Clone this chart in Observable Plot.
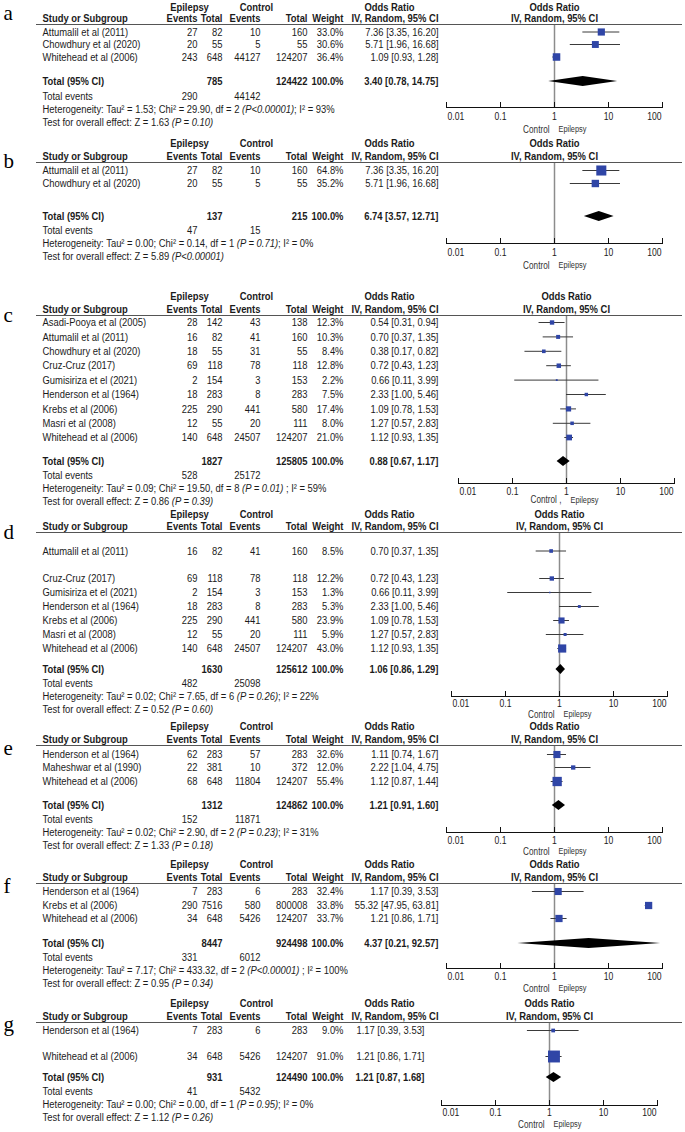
<!DOCTYPE html>
<html>
<head>
<meta charset="utf-8">
<script src="https://cdn.jsdelivr.net/npm/d3@7"></script>
<script src="https://cdn.jsdelivr.net/npm/@observablehq/plot@0.6"></script>
<style>
html,body{margin:0;padding:0;background:#fff;}
#figure{width:685px;height:1132px;overflow:hidden;background:#fff;}
#figure svg{display:block;}
</style>
</head>
<body>
<div id="figure"></div>
<script>
// ---------------- DATA ----------------
// Panel a
const studiesA = ["Attumalil et al (2011)", "Chowdhury et al (2020)", "Whitehead et al (2006)"];
const epiEventsA = [27, 20, 243];
const epiTotalA = [82, 55, 648];
const ctlEventsA = [10, 5, 44127];
const ctlTotalA = [160, 55, 124207];
const weightA = [33.0, 30.6, 36.4];
const orA = [7.36, 5.71, 1.09];
const loA = [3.35, 1.96, 0.93];
const hiA = [16.20, 16.68, 1.28];
// Panel b
const studiesB = ["Attumalil et al (2011)", "Chowdhury et al (2020)"];
const epiEventsB = [27, 20];
const epiTotalB = [82, 55];
const ctlEventsB = [10, 5];
const ctlTotalB = [160, 55];
const weightB = [64.8, 35.2];
const orB = [7.36, 5.71];
const loB = [3.35, 1.96];
const hiB = [16.20, 16.68];
// Panel c
const studiesC = ["Asadi-Pooya et al (2005)", "Attumalil et al (2011)", "Chowdhury et al (2020)", "Cruz-Cruz (2017)", "Gumisiriza et el (2021)", "Henderson et al (1964)", "Krebs et al (2006)", "Masri et al (2008)", "Whitehead et al (2006)"];
const epiEventsC = [28, 16, 18, 69, 2, 18, 225, 12, 140];
const epiTotalC = [142, 82, 55, 118, 154, 283, 290, 55, 648];
const ctlEventsC = [43, 41, 31, 78, 3, 8, 441, 20, 24507];
const ctlTotalC = [138, 160, 55, 118, 153, 283, 580, 111, 124207];
const weightC = [12.3, 10.3, 8.4, 12.8, 2.2, 7.5, 17.4, 8.0, 21.0];
const orC = [0.54, 0.70, 0.38, 0.72, 0.66, 2.33, 1.09, 1.27, 1.12];
const loC = [0.31, 0.37, 0.17, 0.43, 0.11, 1.00, 0.78, 0.57, 0.93];
const hiC = [0.94, 1.35, 0.82, 1.23, 3.99, 5.46, 1.53, 2.83, 1.35];
// Panel d
const studiesD = ["Attumalil et al (2011)", "Cruz-Cruz (2017)", "Gumisiriza et el (2021)", "Henderson et al (1964)", "Krebs et al (2006)", "Masri et al (2008)", "Whitehead et al (2006)"];
const epiEventsD = [16, 69, 2, 18, 225, 12, 140];
const epiTotalD = [82, 118, 154, 283, 290, 55, 648];
const ctlEventsD = [41, 78, 3, 8, 441, 20, 24507];
const ctlTotalD = [160, 118, 153, 283, 580, 111, 124207];
const weightD = [8.5, 12.2, 1.3, 5.3, 23.9, 5.9, 43.0];
const orD = [0.70, 0.72, 0.66, 2.33, 1.09, 1.27, 1.12];
const loD = [0.37, 0.43, 0.11, 1.00, 0.78, 0.57, 0.93];
const hiD = [1.35, 1.23, 3.99, 5.46, 1.53, 2.83, 1.35];
// Panel e
const studiesE = ["Henderson et al (1964)", "Maheshwar et al (1990)", "Whitehead et al (2006)"];
const epiEventsE = [62, 22, 68];
const epiTotalE = [283, 381, 648];
const ctlEventsE = [57, 10, 11804];
const ctlTotalE = [283, 372, 124207];
const weightE = [32.6, 12.0, 55.4];
const orE = [1.11, 2.22, 1.12];
const loE = [0.74, 1.04, 0.87];
const hiE = [1.67, 4.75, 1.44];
// Panel f
const studiesF = ["Henderson et al (1964)", "Krebs et al (2006)", "Whitehead et al (2006)"];
const epiEventsF = [7, 290, 34];
const epiTotalF = [283, 7516, 648];
const ctlEventsF = [6, 580, 5426];
const ctlTotalF = [283, 800008, 124207];
const weightF = [32.4, 33.8, 33.7];
const orF = [1.17, 55.32, 1.21];
const loF = [0.39, 47.95, 0.86];
const hiF = [3.53, 63.81, 1.71];
// Panel g
const studiesG = ["Henderson et al (1964)", "Whitehead et al (2006)"];
const epiEventsG = [7, 34];
const epiTotalG = [283, 648];
const ctlEventsG = [6, 5426];
const ctlTotalG = [283, 124207];
const weightG = [9.0, 91.0];
const orG = [1.17, 1.21];
const loG = [0.39, 0.86];
const hiG = [3.53, 1.71];

// Summary values, one per panel (a..g)
const panelLetters = ["a", "b", "c", "d", "e", "f", "g"];
const totalEpi = [785, 137, 1827, 1630, 1312, 8447, 931];
const totalCtl = [124422, 215, 125805, 125612, 124862, 924498, 124490];
const totalOR = [3.40, 6.74, 0.88, 1.06, 1.21, 4.37, 1.21];
const totalLo = [0.78, 3.57, 0.67, 0.86, 0.91, 0.21, 0.87];
const totalHi = [14.75, 12.71, 1.17, 1.29, 1.60, 92.57, 1.68];
const eventsEpi = [290, 47, 528, 482, 152, 331, 41];
const eventsCtl = [44142, 15, 25172, 25098, 11871, 6012, 5432];
const heterogeneity = [
  "Heterogeneity: Tau² = 1.53; Chi² = 29.90, df = 2 (P<0.00001); I² = 93%",
  "Heterogeneity: Tau² = 0.00; Chi² = 0.14, df = 1 (P = 0.71); I² = 0%",
  "Heterogeneity: Tau² = 0.09; Chi² = 19.50, df = 8 (P = 0.01) ; I² = 59%",
  "Heterogeneity: Tau² = 0.02; Chi² = 7.65, df = 6 (P = 0.26); I² = 22%",
  "Heterogeneity: Tau² = 0.02; Chi² = 2.90, df = 2 (P = 0.23); I² = 31%",
  "Heterogeneity: Tau² = 7.17; Chi² = 433.32, df = 2 (P<0.00001) ; I² = 100%",
  "Heterogeneity: Tau² = 0.00; Chi² = 0.00, df = 1 (P = 0.95); I² = 0%"
];
const overallEffect = [
  "Test for overall effect: Z = 1.63 (P = 0.10)",
  "Test for overall effect: Z = 5.89 (P<0.00001)",
  "Test for overall effect: Z = 0.86 (P = 0.39)",
  "Test for overall effect: Z = 0.52 (P = 0.60)",
  "Test for overall effect: Z = 1.33 (P = 0.18)",
  "Test for overall effect: Z = 0.95 (P = 0.34)",
  "Test for overall effect: Z = 1.12 (P = 0.26)"
];
const groupHeaders = ["Epilepsy", "Control", "Odds Ratio"];
const columnHeaders = ["Study or Subgroup", "Events", "Total", "Events", "Total", "Weight", "IV, Random, 95% CI"];
const forestHeaders = ["Odds Ratio", "IV, Random, 95% CI"];
const totalLabels = ["Total (95% CI)", "Total events", "100.0%"];
const tickValues = [0.01, 0.1, 1, 10, 100];
const tickLabels = ["0.01", "0.1", "1", "10", "100"];
const favoursLeft = ["Control", "Control", "Control ,", "Control", "Control", "Control", "Control"];
const favoursRight = ["Epilepsy", "Epilepsy", "Epilepsy", "Epilepsy", "Epilepsy", "Epilepsy", "Epilepsy"];

// ---------------- LAYOUT (pixels) ----------------
const LAYOUT = [
  {top: 0,   bottom: 136,  letter: 13,   h1: 7,    h2: 18,   rule: 24,   rows: [31.5, 44, 56.5], total: 81, tev: 96, het: 109, test: 122, axis: 107, tick: 116, dir: 129, x0: 446, ci: 438},
  {top: 136, bottom: 282,  letter: 161,  h1: 143,  h2: 156,  rule: 162,  rows: [170, 183], total: 216, tev: 230, het: 243, test: 256, axis: 243, tick: 252, dir: 265, x0: 446, ci: 438},
  {top: 282, bottom: 507,  letter: 315,  h1: 296,  h2: 309,  rule: 315,  rows: [322, 336.4, 350.8, 365.2, 379.6, 394, 408.4, 422.8, 437], total: 461, tev: 475, het: 488, test: 501, axis: 483, tick: 491, dir: 499.5, x0: 458, ci: 438},
  {top: 507, bottom: 719,  letter: 532,  h1: 513.5, h2: 526, rule: 532,  rows: [550.5, 578, 592, 606, 620, 634, 648], total: 669, tev: 683, het: 696, test: 709, axis: 696, tick: 703, dir: 714, x0: 451, ci: 438},
  {top: 719, bottom: 858,  letter: 748,  h1: 726,  h2: 739,  rule: 745,  rows: [754, 767, 781], total: 805, tev: 819, het: 832, test: 845, axis: 832, tick: 840, dir: 851, x0: 446, ci: 438},
  {top: 858, bottom: 996,  letter: 886,  h1: 864,  h2: 877,  rule: 883,  rows: [891, 905, 918], total: 943, tev: 957, het: 970, test: 983, axis: 968, tick: 976, dir: 988, x0: 446, ci: 438},
  {top: 996, bottom: 1132, letter: 1024, h1: 1003, h2: 1016, rule: 1022, rows: [1030, 1056], total: 1077, tev: 1091, het: 1104, test: 1117, axis: 1105, tick: 1112, dir: 1124, x0: 441, ci: 424}
];
const COLX = {study: 42, epiEv: 197, epiTot: 222, ctlEv: 260, ctlTot: 307, weight: 343, ciHead: 438};
const GROUPX = [189, 256, 389];
const FONT = "'Liberation Sans',Arial,sans-serif";
const FS = 11.5;
const NARROW = 0.82; // horizontal condensing of the sans text (reference uses a narrow face)
const INK = "#1b1b1b";
const BLUE = "#2f45a6";

const PANELS = [
  {studies: studiesA, epiEvents: epiEventsA, epiTotal: epiTotalA, ctlEvents: ctlEventsA, ctlTotal: ctlTotalA, weight: weightA, or: orA, lo: loA, hi: hiA},
  {studies: studiesB, epiEvents: epiEventsB, epiTotal: epiTotalB, ctlEvents: ctlEventsB, ctlTotal: ctlTotalB, weight: weightB, or: orB, lo: loB, hi: hiB},
  {studies: studiesC, epiEvents: epiEventsC, epiTotal: epiTotalC, ctlEvents: ctlEventsC, ctlTotal: ctlTotalC, weight: weightC, or: orC, lo: loC, hi: hiC},
  {studies: studiesD, epiEvents: epiEventsD, epiTotal: epiTotalD, ctlEvents: ctlEventsD, ctlTotal: ctlTotalD, weight: weightD, or: orD, lo: loD, hi: hiD},
  {studies: studiesE, epiEvents: epiEventsE, epiTotal: epiTotalE, ctlEvents: ctlEventsE, ctlTotal: ctlTotalE, weight: weightE, or: orE, lo: loE, hi: hiE},
  {studies: studiesF, epiEvents: epiEventsF, epiTotal: epiTotalF, ctlEvents: ctlEventsF, ctlTotal: ctlTotalF, weight: weightF, or: orF, lo: loF, hi: hiF},
  {studies: studiesG, epiEvents: epiEventsG, epiTotal: epiTotalG, ctlEvents: ctlEventsG, ctlTotal: ctlTotalG, weight: weightG, or: orG, lo: loG, hi: hiG}
];

const f2 = v => v.toFixed(2);
const ciText = (o, l, h) => `${f2(o)} [${f2(l)}, ${f2(h)}]`;

function italicize(svg) {
  svg.querySelectorAll("text").forEach(t => {
    const s = t.textContent;
    const m = s.match(/^(.*?)(\(P[^)]*\))(.*)$/);
    if (!m) return;
    while (t.firstChild) t.removeChild(t.firstChild);
    [[m[1], false], [m[2], true], [m[3], false]].forEach(([str, it]) => {
      if (!str) return;
      const ts = document.createElementNS("http://www.w3.org/2000/svg", "tspan");
      if (it) ts.setAttribute("font-style", "italic");
      ts.textContent = str;
      t.appendChild(ts);
    });
  });
}

function condense(svg, s) {
  svg.querySelectorAll("text").forEach(t => {
    const g = t.closest("g[font-family]");
    const fam = g ? g.getAttribute("font-family") : "";
    if (/Serif/.test(fam)) return;
    const tr = t.getAttribute("transform");
    if (tr && /translate\(/.test(tr)) {
      t.setAttribute("transform", tr + ` scale(${s},1)`);
    } else {
      const X = +(t.getAttribute("x") || 0);
      t.setAttribute("transform", `translate(${X},0) scale(${s},1) translate(${-X},0)`);
    }
  });
}

function drawPanel(k) {
  const P = PANELS[k], L = LAYOUT[k];
  const h = L.bottom - L.top;
  const rows = P.studies.map((name, i) => ({
    name, ee: P.epiEvents[i], et: P.epiTotal[i], ce: P.ctlEvents[i], ct: P.ctlTotal[i],
    w: P.weight[i], or: P.or[i], lo: P.lo[i], hi: P.hi[i], y: L.rows[i]
  }));
  const tot = {et: totalEpi[k], ct: totalCtl[k], or: totalOR[k], lo: totalLo[k], hi: totalHi[k]};
  const T = (data, o) => Plot.text(data, {frameAnchor: "left", fontFamily: FONT, fontSize: FS, fill: INK, ...o});
  const B = (data, o) => T(data, {fontWeight: "bold", ...o});
  const marks = [];

  // panel letter
  marks.push(Plot.text([panelLetters[k]], {frameAnchor: "left", dx: 3, y: L.letter, text: d => d,
    fontFamily: "'Liberation Serif','DejaVu Serif',serif", fontSize: 21, textAnchor: "start", fill: "#000"}));

  // header rule
  marks.push(Plot.ruleY([L.rule], {y: d => d, stroke: "#555", strokeWidth: 1, insetLeft: 36, insetRight: 3}));

  // group headers
  groupHeaders.forEach((g, j) => marks.push(B([g], {y: L.h1, dx: GROUPX[j], textAnchor: "middle", text: d => d})));
  // column headers
  const headPos = [[COLX.study, "start"], [COLX.epiEv, "end"], [COLX.epiTot, "end"], [COLX.ctlEv, "end"], [COLX.ctlTot, "end"], [COLX.weight, "end"], [COLX.ciHead, "end"]];
  columnHeaders.forEach((c, j) => marks.push(B([c], {y: L.h2, dx: headPos[j][0], textAnchor: headPos[j][1], text: d => d})));

  // study rows
  const rowCols = [
    [COLX.study, "start", d => d.name],
    [COLX.epiEv, "end", d => String(d.ee)],
    [COLX.epiTot, "end", d => String(d.et)],
    [COLX.ctlEv, "end", d => String(d.ce)],
    [COLX.ctlTot, "end", d => String(d.ct)],
    [COLX.weight, "end", d => d.w.toFixed(1) + "%"],
    [L.ci, "end", d => ciText(d.or, d.lo, d.hi)]
  ];
  rowCols.forEach(([x, a, fn]) => marks.push(T(rows, {y: "y", dx: x, textAnchor: a, text: fn})));

  // total row
  marks.push(B([tot], {y: L.total, dx: COLX.study, textAnchor: "start", text: () => totalLabels[0]}));
  marks.push(B([tot], {y: L.total, dx: COLX.epiTot, textAnchor: "end", text: d => String(d.et)}));
  marks.push(B([tot], {y: L.total, dx: COLX.ctlTot, textAnchor: "end", text: d => String(d.ct)}));
  marks.push(B([tot], {y: L.total, dx: COLX.weight, textAnchor: "end", text: () => totalLabels[2]}));
  marks.push(B([tot], {y: L.total, dx: L.ci, textAnchor: "end", text: d => ciText(d.or, d.lo, d.hi)}));

  // total events
  marks.push(T([totalLabels[1]], {y: L.tev, dx: COLX.study, textAnchor: "start", text: d => d}));
  marks.push(T([eventsEpi[k]], {y: L.tev, dx: COLX.epiEv, textAnchor: "end", text: d => String(d)}));
  marks.push(T([eventsCtl[k]], {y: L.tev, dx: COLX.ctlEv, textAnchor: "end", text: d => String(d)}));
  // heterogeneity / overall effect
  marks.push(T([heterogeneity[k]], {y: L.het, dx: COLX.study, textAnchor: "start", text: d => d}));
  marks.push(T([overallEffect[k]], {y: L.test, dx: COLX.study, textAnchor: "start", text: d => d}));

  // forest headers
  marks.push(Plot.text([forestHeaders[0]], {x: 1, y: L.h1, text: d => d, fontFamily: FONT, fontSize: FS, fontWeight: "bold", fill: INK}));
  marks.push(Plot.text([forestHeaders[1]], {x: 1, y: L.h2, text: d => d, fontFamily: FONT, fontSize: FS, fontWeight: "bold", fill: INK}));

  // line of no effect
  marks.push(Plot.ruleX([1], {x: d => d, y1: L.rule + 1, y2: L.axis, stroke: "#8c8c8c", strokeWidth: 1.5}));
  // CIs and squares
  marks.push(Plot.ruleY(rows, {y: "y", x1: "lo", x2: "hi", stroke: "#3a3a3a", strokeWidth: 1}));
  marks.push(Plot.dot(rows, {x: "or", y: "y", r: "w", symbol: "square", fill: BLUE, stroke: "none"}));
  // summary diamond
  const dia = [
    {y: L.total - 5, x1: tot.or, x2: tot.or},
    {y: L.total, x1: tot.lo, x2: tot.hi},
    {y: L.total + 5, x1: tot.or, x2: tot.or}
  ];
  marks.push(Plot.areaX(dia, {y: "y", x1: "x1", x2: "x2", fill: "#000", curve: "linear"}));

  // axis
  marks.push(Plot.ruleY([L.axis], {y: d => d, x1: tickValues[0], x2: tickValues[tickValues.length - 1], stroke: "#111", strokeWidth: 1}));
  marks.push(Plot.ruleX(tickValues, {x: d => d, y1: L.axis - 5, y2: L.axis + 1, stroke: "#111", strokeWidth: 1}));
  const lab = d => tickLabels[tickValues.indexOf(d)];
  const tickStyle = {y: L.tick, text: lab, fontFamily: FONT, fontSize: 10.5, fill: INK};
  marks.push(Plot.text(tickValues.slice(0, 1), {x: d => d, textAnchor: "start", dx: 1, ...tickStyle}));
  marks.push(Plot.text(tickValues.slice(1, -1), {x: d => d, textAnchor: "middle", ...tickStyle}));
  marks.push(Plot.text(tickValues.slice(-1), {x: d => d, textAnchor: "end", dx: -1, ...tickStyle}));
  // favours labels
  marks.push(Plot.text([favoursLeft[k]], {x: 1, y: L.dir, dx: -5, textAnchor: "end", text: d => d, fontFamily: FONT, fontSize: 10, fill: "#333"}));
  marks.push(Plot.text([favoursRight[k]], {x: 1, y: L.dir, dx: 4, textAnchor: "start", text: d => d, fontFamily: FONT, fontSize: 9, fill: "#333"}));

  const svg = Plot.plot({
    width: 685,
    height: h,
    margin: 0,
    x: {type: "log", domain: [0.01, 100], range: [L.x0, L.x0 + 216], axis: null},
    y: {domain: [L.top, L.bottom], range: [0, h], axis: null},
    r: {type: "sqrt", domain: [0, 100], range: [0, 7.05]},
    style: {background: "#fff", overflow: "visible"},
    marks
  });
  italicize(svg);
  condense(svg, NARROW);
  return svg;
}

const fig = document.getElementById("figure");
for (let k = 0; k < 7; k++) fig.appendChild(drawPanel(k));
</script>
</body>
</html>
